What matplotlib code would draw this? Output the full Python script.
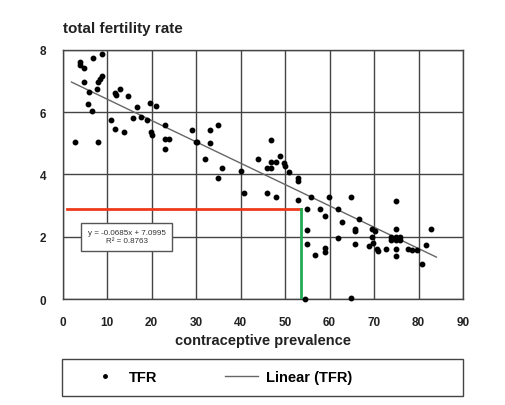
import matplotlib
matplotlib.use("Agg")
import matplotlib.pyplot as plt
from matplotlib.lines import Line2D
from matplotlib.patches import Rectangle
import numpy as np

plt.rcParams['font.family'] = ['Liberation Sans', 'DejaVu Sans']

# contraceptive prevalence (x) and total fertility rate (y)
cp = [3.9, 4.0, 4.7, 6.9, 8.8, 8.75, 8.5, 8.0, 4.8, 7.8, 6.0, 5.75, 6.7, 11.7, 12.0, 12.9,
      14.7, 16.8, 19.75, 20.9, 10.8, 11.7, 13.8, 15.85, 17.7, 18.9, 19.8, 20.0, 23.0, 23.0,
      23.9, 23.0, 2.8, 7.9,
      29.0, 33.1, 34.9, 29.9, 30.3, 33.1, 31.9, 35.9, 34.9, 40.0, 40.8, 43.9, 46.8, 45.9,
      46.9, 46.9, 47.9, 48.9, 49.8, 49.9, 50.9, 53.0, 53.0, 45.9, 47.9, 52.9,
      55.9, 59.8, 64.8, 55.0, 57.9, 58.9, 61.9, 62.8, 66.7, 65.6, 65.6, 55.0, 55.0, 56.8,
      58.9, 58.9, 61.9, 65.7, 68.8, 69.5, 70.1, 69.5, 69.7, 70.6, 70.8, 75.0, 75.0, 73.8,
      73.8, 75.0, 75.0, 75.9, 75.9, 72.7, 75.0, 75.0, 77.7, 78.5, 79.7, 80.8, 81.7, 82.8,
      54.4, 64.7]
tfr = [7.6, 7.5, 7.4, 7.75, 7.85, 7.15, 7.05, 6.95, 6.95, 6.75, 6.65, 6.25, 6.05, 6.6, 6.55, 6.75,
       6.5, 6.15, 6.3, 6.2, 5.75, 5.45, 5.35, 5.8, 5.85, 5.75, 5.35, 5.27, 5.6, 5.13,
       5.13, 4.8, 5.04, 5.04,
       5.43, 5.42, 5.6, 5.04, 5.04, 5.02, 4.5, 4.22, 3.9, 4.1, 3.4, 4.5, 5.1, 4.2,
       4.2, 4.4, 4.4, 4.6, 4.38, 4.27, 4.07, 3.9, 3.78, 3.4, 3.29, 3.19,
       3.26, 3.28, 3.27, 2.88, 2.88, 2.67, 2.88, 2.48, 2.57, 2.25, 2.17, 2.2, 1.78, 1.42,
       1.64, 1.51, 1.97, 1.78, 1.69, 2.25, 2.18, 1.98, 1.8, 1.6, 1.53, 3.16, 2.25, 2.0,
       1.9, 2.0, 1.9, 2.0, 1.9, 1.61, 1.61, 1.37, 1.62, 1.56, 1.56, 1.13, 1.75, 2.24,
       0.0, 0.02]

slope = -0.0685
intercept = 7.0995
trend_x = [2.0, 84.0]
ref_x = 53.6
ref_y = 2.88
eq_text = "y = -0.0685x + 7.0995\nR² = 0.8763"

fig = plt.figure(figsize=(5.05, 4.06), dpi=100)
fig.patch.set_facecolor('white')
ax = fig.add_axes([0.124, 0.261, 0.793, 0.614])

ax.set_xlim(0, 90)
ax.set_ylim(0, 8)
ax.set_xticks(range(0, 91, 10))
ax.set_yticks([0, 2, 4, 6, 8])
ax.grid(True, color='#444444', linewidth=1.0)
ax.set_axisbelow(True)
for s in ax.spines.values():
    s.set_color('#444444')
    s.set_linewidth(1.0)
ax.tick_params(length=0, pad=12, labelsize=8.5, colors='#222222')
for lab in ax.get_xticklabels() + ax.get_yticklabels():
    lab.set_fontweight('bold')
ax.tick_params(axis='y', pad=12)

tx = np.array(trend_x)
ax.plot(tx, slope * tx + intercept, color='#666666', linewidth=1.0, zorder=3)
ax.plot(cp, tfr, 'o', color='black', markersize=3.2, zorder=4, clip_on=False)

ax.plot([1.0, ref_x], [ref_y, ref_y], color='#ee3a1a', linewidth=2.0, zorder=5)
ax.plot([ref_x, ref_x], [ref_y, 0], color='#22aa55', linewidth=2.0, zorder=5)

ax.text(14.4, 2.0, eq_text, fontsize=5.8, ha='center', va='center', color='#333333',
        linespacing=1.15,
        bbox=dict(boxstyle='square,pad=0.8', facecolor='white', edgecolor='#555555', linewidth=1.0),
        zorder=6)

fig.text(0.124, 0.912, "total fertility rate", fontsize=11, fontweight='bold', ha='left',
         va='bottom', color='#222222')
ax.set_xlabel("contraceptive prevalence", fontsize=10.5, fontweight='bold', color='#222222',
              labelpad=4)

# legend frame
fig.add_artist(Rectangle((0.122, 0.023), 0.795, 0.09, transform=fig.transFigure,
                         facecolor='none', edgecolor='#444444', linewidth=1.0))
handles = [Line2D([], [], marker='o', linestyle='none', color='black', markersize=2.5),
           Line2D([], [], color='#666666', linewidth=1.0)]
leg = fig.legend(handles, ["TFR", "Linear (TFR)"], ncol=2, loc='center left',
                 bbox_to_anchor=(0.175, 0.069), frameon=False,
                 prop={'weight': 'bold', 'size': 10.5}, handlelength=2.3,
                 handletextpad=0.5, columnspacing=4.6, borderaxespad=0, borderpad=0)

fig.savefig("out.png", dpi=100, facecolor='white')
